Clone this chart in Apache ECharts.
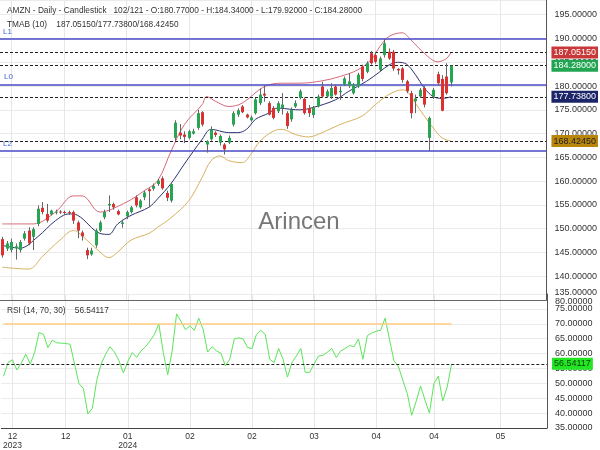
<!DOCTYPE html>
<html><head><meta charset="utf-8">
<script src="https://cdn.jsdelivr.net/npm/echarts@6/dist/echarts.min.js"></script>
<style>html,body{margin:0;padding:0;background:#fff}#c{width:600px;height:450px}</style>
</head><body><div id="c"></div>
<script>
// ---------- data ----------
const slotCount = 123;
const xTickIndex = [2, 14, 28, 42, 56, 70, 84, 97, 112];
const xTickLabels = ['12\n2023', '12', '01\n2024', '02', '02', '03', '04', '04', '05'];

const open  = [147.8,145.8,145.5,146.0,145.5,147.9,149.6,148.3,151.0,154.4,153.1,153.0,153.5,153.6,153.5,153.5,153.5,151.3,149.2,145.5,144.6,146.5,149.6,152.4,154.9,155.2,153.7,151.0,152.6,153.5,156.6,154.5,156.6,158.3,158.4,159.4,160.6,157.5,155.9,169.1,170.2,169.8,169.1,170.0,171.2,174.5,167.7,168.8,170.2,168.1,167.7,168.1,171.9,174.0,175.7,174.0,172.8,174.3,176.4,178.4,176.4,175.4,174.7,175.4,174.3,173.0,175.7,177.5,177.3,175.4,173.9,175.7,179.9,177.8,177.8,179.9,178.7,180.3,180.0,178.5,179.9,184.1,183.0,186.9,186.5,183.4,186.5,187.2,187.2,183.6,183.7,181.0,178.5,176.8,177.8,179.6,169.1,177.8,182.5,181.5,182.0,180.77];
const high  = [148.3,147.4,147.9,146.9,147.6,149.5,150.3,150.3,154.9,155.6,155.2,154.0,154.0,153.9,153.8,153.8,153.8,151.7,149.6,146.0,146.0,150.0,151.7,154.0,157.0,155.5,154.0,151.9,153.8,154.8,157.0,156.2,158.0,158.5,159.5,160.5,161.0,158.0,159.8,172.8,172.0,170.5,170.8,171.0,175.0,174.7,168.6,171.5,170.5,169.8,168.0,169.6,174.7,175.3,176.0,174.2,173.8,177.5,179.5,180.2,176.8,175.8,176.8,178.5,174.7,175.5,177.0,179.3,177.6,176.0,175.8,178.2,180.9,179.3,180.6,180.3,179.9,182.0,182.7,180.6,182.8,184.5,185.2,187.4,187.2,186.2,189.9,187.9,187.6,183.8,184.0,181.3,179.0,178.2,179.6,180.0,173.6,179.6,183.0,182.3,184.8,184.34];
const low   = [143.9,145.3,145.0,143.5,145.0,147.5,146.5,145.5,150.5,153.0,151.3,152.8,153.0,153.1,153.0,152.9,151.0,148.0,147.5,143.6,144.3,146.0,149.3,152.0,153.5,154.0,152.8,150.2,152.0,153.2,154.5,154.2,156.0,154.5,158.0,159.0,158.2,155.8,155.5,168.5,168.8,168.0,168.8,169.8,170.8,171.5,166.0,168.5,169.3,167.5,165.6,167.8,171.5,173.5,174.3,173.2,172.5,174.0,176.0,176.7,173.8,173.0,174.3,174.0,171.0,172.5,175.4,177.2,174.0,173.5,173.3,175.5,177.5,177.5,177.3,178.0,177.1,180.0,179.6,178.2,179.6,181.0,182.7,184.5,184.7,183.0,186.0,185.5,183.2,182.4,180.7,178.5,173.2,174.3,177.5,175.5,166.37,177.3,180.2,174.7,178.2,179.92];
const close = [144.4,146.9,147.2,146.3,147.2,149.0,146.9,149.9,154.2,153.5,151.7,153.8,153.6,153.5,153.4,153.3,151.7,149.6,148.4,144.4,145.4,149.6,151.3,153.5,155.2,154.5,153.0,151.3,153.5,154.5,154.9,155.9,157.6,157.9,159.0,160.1,158.5,156.5,159.4,172.3,169.6,169.3,170.5,170.5,174.3,171.9,168.4,170.9,169.7,169.5,166.7,169.1,174.3,174.9,174.5,173.4,173.4,177.2,178.2,178.0,174.0,173.3,176.4,176.1,171.6,175.0,176.4,178.9,174.3,174.3,175.5,177.8,177.8,178.9,179.6,178.2,179.0,181.6,181.0,180.3,182.4,181.5,184.8,184.8,185.1,185.8,189.0,185.8,183.7,183.3,181.3,178.9,174.3,177.4,179.2,176.1,173.3,179.2,180.6,174.8,178.5,184.28];

const tmaUpper = [[0,151.0],[7,151.0],[12,153.5],[16,156.9],[18,156.9],[22,153.5],[28,155.6],[32,158.0],[35,160.1],[38,166.3],[41,171.9],[45,176.1],[46,177.8],[48,176.8],[51,175.7],[54,176.4],[59,179.9],[63,180.6],[67,180.6],[72,181.1],[76,182.0],[80,183.4],[83,185.5],[85,188.3],[87,190.4],[90,191.2],[92,189.7],[95,186.9],[98,185.1],[100,185.8],[101,187.0515]];
const tmaMid   = [[0,146.5],[4,145.9],[8,148.3],[12,151.7],[15,153.1],[17,152.8],[22,149.0],[24,148.8],[26,151.0],[29,152.8],[33,154.5],[35,156.3],[38,159.5],[41,163.6],[45,168.8],[47,170.9],[51,170.2],[53,170.2],[55,170.9],[57,173.0],[60,174.3],[62,175.4],[65,175.1],[67,175.0],[70,175.5],[75,177.1],[78,178.9],[82,181.0],[85,183.0],[87,184.4],[89,185.0],[91,184.6],[93,182.4],[95,179.6],[97,177.8],[99,177.4],[101,177.738]];
const tmaLower = [[0,141.9],[6,141.5],[9,144.1],[13,147.6],[16,149.6],[17,149.3],[22,145.1],[24,143.9],[26,145.1],[29,147.6],[33,149.0],[35,150.3],[38,152.3],[42,155.9],[45,160.8],[47,164.3],[49,165.3],[51,164.3],[54,163.9],[56,165.7],[58,168.4],[61,170.5],[63,170.9],[66,169.8],[69,169.3],[72,170.2],[76,171.9],[81,173.7],[84,176.1],[87,178.2],[90,179.2],[91,179.0],[93,176.4],[95,173.7],[97,171.2],[99,169.1],[101,168.4245]];

const rsi = [52.4,57.0,57.9,54.5,56.8,59.8,56.5,60.3,67.1,66.4,62.0,64.5,63.6,63.5,63.4,63.1,56.5,49.9,48.2,39.7,41.6,51.0,56.5,59.8,62.3,60.5,57.6,53.5,57.3,60.3,58.7,60.9,62.3,64.2,66.4,70.0,60.3,52.9,60.9,73.3,70.8,68.0,69.3,67.8,71.9,68.0,60.5,62.3,60.9,60.1,55.9,58.1,64.9,65.3,64.9,62.0,61.7,66.4,67.8,66.4,58.1,57.0,61.7,58.1,52.1,57.0,59.2,61.7,53.7,53.7,56.5,59.2,59.4,60.5,61.7,58.7,60.9,61.7,62.7,62.3,64.9,58.1,66.0,66.9,67.5,67.8,71.9,64.7,57.6,55.7,51.0,46.6,39.3,43.9,49.1,44.4,40.0,49.9,52.4,44.1,48.8,56.54117];

const levelL1 = 189.89, levelL0 = 180.17, levelL2 = 166.37;
const tmabUpperLast = 187.0515, tmabMidLast = 177.738, tmabLowerLast = 168.4245;
const lastOpen = 180.77, lastHigh = 184.34, lastLow = 179.92, lastClose = 184.28;
const rsiLast = 56.54117, rsiUpper = 70;
const rsiMin = 35, rsiMax = 80;

// ---------- chart ----------
const FONT = '"Liberation Sans", Arial, sans-serif';
const cats = Array.from({length: slotCount}, (_, i) => String(i));
const tickMap = {};
xTickIndex.forEach((k, j) => tickMap[k] = xTickLabels[j]);
const isTick = (i) => tickMap[i] !== undefined;
const candleData = open.map((o, i) => [i, o, close[i], low[i], high[i]]);

const chart = echarts.init(document.getElementById('c'), null, {renderer: 'canvas'});

function levelLines(v, name, numDist, nameDist) {
  return [
    {yAxis: v, lineStyle: {color: '#4848c6', width: 1.5, type: 'solid'},
     label: {show: true, position: 'insideStartTop', formatter: name, color: '#4466dd', fontSize: 8, distance: nameDist, fontFamily: FONT}},
    {yAxis: v, lineStyle: {opacity: 0},
     label: {show: true, position: 'insideEndTop', formatter: v.toFixed(2), color: '#7090ee', fontSize: 9, distance: numDist, offset: [-30, 0], fontFamily: FONT}}
  ];
}
function dashLine(v, bg, fg) {
  return {yAxis: v, lineStyle: {color: '#222', type: [3, 2], width: 1},
    label: {show: true, position: 'end', formatter: v.toFixed(5), backgroundColor: bg, color: fg,
      padding: [2, 2, 1, 2], fontSize: 9, distance: 5, fontFamily: FONT}};
}

const option = {
  animation: false,
  backgroundColor: '#fff',
  textStyle: {fontFamily: FONT},
  grid: [
    {left: 0, right: 53, top: 0, height: 300},
    {left: 0, right: 53, top: 294, height: 136}
  ],
  xAxis: [
    {type: 'category', gridIndex: 0, data: cats, boundaryGap: true,
     axisLine: {show: true, lineStyle: {color: '#666'}}, axisTick: {show: false}, axisLabel: {show: false},
     splitLine: {show: true, interval: (i) => isTick(i), alignWithLabel: true, lineStyle: {color: '#e6e6e6'}}},
    {type: 'category', gridIndex: 1, data: cats, boundaryGap: true,
     axisLine: {show: true, lineStyle: {color: '#444'}}, axisTick: {show: false},
     axisLabel: {show: true, interval: (i) => isTick(i), formatter: (v, i) => tickMap[i] || '',
       fontSize: 8.5, color: '#333', lineHeight: 9, margin: 4, fontFamily: FONT},
     splitLine: {show: true, interval: (i) => isTick(i), alignWithLabel: true, lineStyle: {color: '#e6e6e6'}}}
  ],
  yAxis: [
    {type: 'value', gridIndex: 0, position: 'right', min: 135, max: 198.1, interval: 5, scale: true,
     axisLine: {show: true, lineStyle: {color: '#555'}}, axisTick: {show: false},
     splitLine: {show: true, lineStyle: {color: '#ebebeb'}},
     axisLabel: {show: true, showMaxLabel: false, showMinLabel: true, margin: 8, fontSize: 9, color: '#333', fontFamily: FONT,
       formatter: (v) => v === 135 ? '{lo|' + v.toFixed(5) + '}' : v.toFixed(5),
       rich: {lo: {padding: [0, 0, 14, 0], fontSize: 9, color: '#333', fontFamily: FONT}}}},
    {type: 'value', gridIndex: 1, position: 'right', min: rsiMin, max: rsiMax, interval: 5,
     axisLine: {show: true, lineStyle: {color: '#555'}}, axisTick: {show: false},
     splitLine: {show: true, lineStyle: {color: '#ebebeb'}},
     axisLabel: {show: true, showMaxLabel: false, showMinLabel: true, margin: 8, fontSize: 9, color: '#333', fontFamily: FONT,
       formatter: (v) => v.toFixed(5)}},
    {type: 'value', gridIndex: 1, position: 'right', min: rsiMin, max: rsiMax, interval: rsiMax - rsiMin,
     axisLine: {show: false}, axisTick: {show: false}, splitLine: {show: false},
     axisLabel: {show: true, showMinLabel: false, showMaxLabel: true, margin: 8, fontSize: 9, color: '#333', fontFamily: FONT,
       verticalAlign: 'top', padding: [3, 0, 0, 0],
       formatter: (v) => v === rsiMax ? v.toFixed(5) : ''}}
  ],
  graphic: [
    {type: 'text', x: 7, y: 10.5, style: {text: 'AMZN - Daily - Candlestick   102/121 - O:' + lastOpen.toFixed(5) + ' - H:' + lastHigh.toFixed(5) + ' - L:' + lastLow.toFixed(5) + ' - C:' + lastClose.toFixed(5),
      fill: '#333', fontSize: 8.3, fontFamily: FONT, verticalAlign: 'middle'}, z: 100},
    {type: 'text', x: 7, y: 25, style: {text: 'TMAB (10)    ' + tmabUpperLast.toFixed(5) + '/' + tmabMidLast.toFixed(5) + '/' + tmabLowerLast.toFixed(5),
      fill: '#333', fontSize: 8.3, fontFamily: FONT, verticalAlign: 'middle'}, z: 100},
    {type: 'text', x: 7, y: 311, style: {text: 'RSI (14, 70, 30)    ' + rsiLast.toFixed(5),
      fill: '#333', fontSize: 8.3, fontFamily: FONT, verticalAlign: 'middle'}, z: 100},
    {type: 'text', x: 299, y: 222, style: {text: 'Arincen', fill: '#777', fontSize: 24, fontFamily: FONT, align: 'center', verticalAlign: 'middle'}, z: 100}
  ],
  series: [
    {type: 'custom', name: 'candles', xAxisIndex: 0, yAxisIndex: 0, data: candleData,
     encode: {x: 0, y: [1, 2, 3, 4]}, clip: true, z: 5,
     renderItem: function (params, api) {
       const x = api.value(0), o = api.value(1), c = api.value(2), l = api.value(3), h = api.value(4);
       const pO = api.coord([x, o]), pC = api.coord([x, c]), pL = api.coord([x, l]), pH = api.coord([x, h]);
       const cx = Math.round(pO[0]) + 0.5;
       const w = 3;
       const top = Math.min(pO[1], pC[1]), bot = Math.max(pO[1], pC[1]);
       const up = c >= o;
       return {type: 'group', children: [
         {type: 'line', shape: {x1: cx, y1: pH[1], x2: cx, y2: pL[1]}, style: {stroke: '#666', lineWidth: 1}},
         {type: 'rect', shape: {x: cx - w / 2, y: top, width: w, height: Math.max(bot - top, 1)},
          style: {fill: up ? '#27a552' : '#dd3131'}}
       ]};
     }},
    {type: 'line', name: 'upper', xAxisIndex: 0, yAxisIndex: 0, data: tmaUpper, smooth: 0.35, showSymbol: false,
     lineStyle: {color: '#d46a78', width: 1}, z: 3},
    {type: 'line', name: 'mid', xAxisIndex: 0, yAxisIndex: 0, data: tmaMid, smooth: 0.35, showSymbol: false,
     lineStyle: {color: '#2d3270', width: 1}, z: 3,
     markLine: {silent: true, symbol: ['none', 'none'], animation: false,
       data: [].concat(
         levelLines(levelL1, 'L1', 1, 3),
         levelLines(levelL0, 'L0', 1, 4),
         levelLines(levelL2, 'L2', 1, 3),
         [dashLine(tmabUpperLast, '#c93838', '#fff'),
          dashLine(lastClose, '#22a553', '#fff'),
          dashLine(tmabMidLast, '#1b2568', '#fff'),
          dashLine(tmabLowerLast, '#b8860b', '#222')]
       )}},
    {type: 'line', name: 'lower', xAxisIndex: 0, yAxisIndex: 0, data: tmaLower, smooth: 0.35, showSymbol: false,
     lineStyle: {color: '#d6b25e', width: 1}, z: 3},
    {type: 'line', name: 'rsi', xAxisIndex: 1, yAxisIndex: 1, data: rsi, showSymbol: false,
     lineStyle: {color: '#5ce55a', width: 1}, z: 4,
     markLine: {silent: true, symbol: ['none', 'none'], animation: false,
       data: [
         [{coord: [0, rsiUpper], lineStyle: {color: '#ffcc80', width: 1.5, type: 'solid'}, label: {show: false}}, {coord: [rsi.length - 1, rsiUpper]}],
         {yAxis: rsiLast, lineStyle: {color: '#222', type: [3, 2], width: 1},
          label: {show: true, position: 'end', formatter: rsiLast.toFixed(5), backgroundColor: '#22e622', color: '#114411',
            padding: [2, 2, 1, 2], fontSize: 9, distance: 5, fontFamily: FONT}}
       ]}}
  ]
};
chart.setOption(option);
</script>
</body></html>
